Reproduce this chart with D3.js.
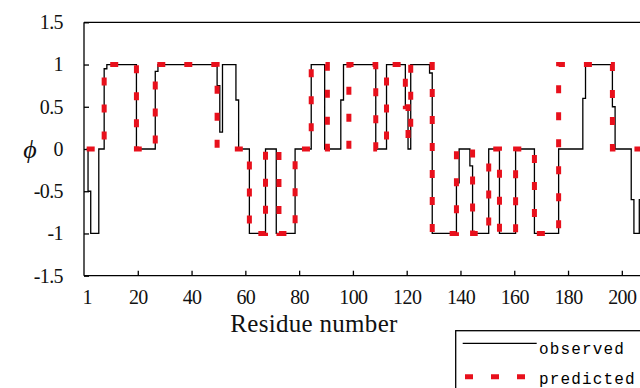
<!DOCTYPE html>
<html>
<head>
<meta charset="utf-8">
<script src="https://cdn.jsdelivr.net/npm/d3@7/dist/d3.min.js"></script>
<style>
body { margin: 0; background: #fff; }
svg { display: block; }
</style>
</head>
<body>
<svg width="640" height="388"></svg>
<script>
// residue numbers along the chain
const residues = d3.range(1, 208)

// observed phi per residue
const observed = [
	0, -0.5, -1, -1, -1, 0, 0, 0.95, 1, 1,
	1, 1, 1, 1, 1, 1, 1, 1, 1, 0,
	0, 0, 0, 0, 0, 0, 0.92, 1, 1, 1,
	1, 1, 1, 1, 1, 1, 1, 1, 1, 1,
	1, 1, 1, 1, 1, 1, 1, 1, 1, 0.75,
	0.2, 1, 1, 1, 1, 1, 0.58, 0, 0, 0,
	0, -1, -1, -1, -1, -1, -1, 0, 0, 0,
	0, -1, -1, -1, -1, -1, -1, -1, 0, 0,
	0, 0, 0, 0, 1, 1, 1, 1, 1, 0,
	0, 0, 0, 0, 0, 0.58, 1, 1, 1, 1,
	1, 1, 1, 1, 1, 1, 1, 1, 0, 0,
	0, 0, 1, 1, 1, 1, 1, 1, 1, 0.5,
	0, 1, 1, 1, 1, 1, 1, 1, 0.9, -1,
	-1, -1, -1, -1, -1, -1, -1, -1, -0.4, 0,
	0, 0, 0, -0.2, -1, -1, -1, -1, -1, -1,
	0, 0, 0, 0, -1, -1, -1, -1, -1, -1,
	0, 0, 0, 0, 0, 0, 0, -1, -1, -1,
	-1, -1, -1, -1, -1, -1, 0, 0, 0, 0,
	0, 0, 0, 0, 0, 0.6, 1, 1, 1, 1,
	1, 1, 1, 1, 1, 1, 0.5, 0, 0, 0,
	0, 0, 0, -0.6, -1, -1, -0.6
]

// predicted phi per residue
const predicted = [
	0, 0, 0, 0, 0, 0, 0, 1, 1, 1,
	1, 1, 1, 1, 1, 1, 1, 1, 1, 0,
	0, 0, 0, 0, 0, 0, 1, 1, 1, 1,
	1, 1, 1, 1, 1, 1, 1, 1, 1, 1,
	1, 1, 1, 1, 1, 1, 1, 1, 1, 0,
	0, 0, 0, 0, 0, 0, 0, 0, 0, 0,
	0, -1, -1, -1, -1, -1, -1, 0, 0, 0,
	0, 0, -1, -1, -1, -1, -1, -1, 0, 0,
	0, 0, 0, 0, 1, 1, 1, 1, 1, 1,
	0, 0, 0, 0, 0, 0, 0, 0, 1, 1,
	1, 1, 1, 1, 1, 1, 1, 1, 0, 0,
	0, 0, 1, 1, 1, 1, 1, 1, 1, 0.5,
	0.1, 1, 1, 1, 1, 1, 1, 1, 1, -1,
	-1, -1, -1, -1, -1, -1, -1, -1, 0, 0,
	0, 0, 0, 0, -1, -1, -1, -1, -1, -1,
	0, 0, 0, 0, -1, -1, -1, -1, -1, -1,
	0, 0, 0, 0, 0, 0, 0, -1, -1, -1,
	-1, -1, -1, -1, -1, -1, 1, 1, 1, 1,
	1, 1, 1, 1, 1, 1, 1, 1, 1, 1,
	1, 1, 1, 1, 1, 1, 0, 0, 0, 0,
	0, 0, 0, 0, 0, 0, 0
]

const xTickLabels = [1, 20, 40, 60, 80, 100, 120, 140, 160, 180, 200]
const yTicks = [-1.5, -1, -0.5, 0, 0.5, 1, 1.5]
const seriesNames = ["observed", "predicted"]

const svg = d3.select("svg")
const serif = "'Liberation Serif', 'Times New Roman', serif"

// plot area runs past the right edge of the picture (the figure is cropped)
const x = d3.scaleLinear().domain([0, 220]).range([84, 675.6])
const y = d3.scaleLinear().domain([-1.5, 1.5]).range([275.7, 22.3])

// frame
const frame = svg.append("g").attr("stroke", "#000").attr("stroke-width", 1.3)
frame.append("line").attr("x1", x(0)).attr("x2", x(220)).attr("y1", y(1.5)).attr("y2", y(1.5))
frame.append("line").attr("x1", x(0)).attr("x2", x(220)).attr("y1", y(-1.5)).attr("y2", y(-1.5))
frame.append("line").attr("x1", x(0)).attr("x2", x(0)).attr("y1", y(1.5)).attr("y2", y(-1.5))
frame.append("line").attr("x1", x(220)).attr("x2", x(220)).attr("y1", y(1.5)).attr("y2", y(-1.5))

// y axis, ticks pointing into the plot
const yAxis = svg.append("g")
	.attr("transform", `translate(${x(0)},0)`)
	.call(d3.axisLeft(y).tickValues(yTicks).tickSizeInner(-5).tickSizeOuter(0).tickPadding(21).tickFormat(d => String(d)))
yAxis.select(".domain").remove()
yAxis.selectAll("line").attr("stroke", "#000").attr("stroke-width", 1.3)
yAxis.selectAll("text")
	.attr("font-family", serif).attr("font-size", 20).attr("letter-spacing", -0.6).attr("fill", "#111")

// x axis
const xAxis = svg.append("g")
	.attr("transform", `translate(0,${y(-1.5)})`)
	.call(d3.axisBottom(x).tickValues(xTickLabels).tickSizeInner(-5).tickSizeOuter(0).tickPadding(14))
xAxis.select(".domain").remove()
xAxis.selectAll("line").attr("stroke", "#000").attr("stroke-width", 1.3)
xAxis.selectAll(".tick").filter(d => d === 1).select("line").remove()
xAxis.selectAll("text")
	.attr("font-family", serif).attr("font-size", 20).attr("letter-spacing", -0.6).attr("fill", "#111")

// series, drawn as steps centred on each residue
const line = d3.line()
	.curve(d3.curveStep)
	.x((d, i) => x(residues[i]))
	.y(d => y(d))

svg.append("path")
	.datum(observed)
	.attr("fill", "none")
	.attr("stroke", "#000")
	.attr("stroke-width", 1.3)
	.attr("d", line)

svg.append("path")
	.datum(predicted)
	.attr("fill", "none")
	.attr("stroke", "#e8101c")
	.attr("stroke-width", 5)
	.attr("stroke-dasharray", "8,19")
	.attr("d", line)

// axis titles
svg.append("text")
	.attr("x", 314).attr("y", 332)
	.attr("text-anchor", "middle")
	.attr("font-family", serif).attr("font-size", 25).attr("letter-spacing", 0.3).attr("fill", "#111")
	.text("Residue number")

svg.append("text")
	.attr("x", 30).attr("y", 158)
	.attr("text-anchor", "middle")
	.attr("font-family", serif).attr("font-size", 26).attr("font-style", "italic").attr("fill", "#111")
	.text("ϕ")

// legend (box is cut by the picture edge)
const legend = svg.append("g")
legend.append("rect")
	.attr("x", 455.7).attr("y", 330.7).attr("width", 220).attr("height", 80)
	.attr("fill", "#fff").attr("stroke", "#000").attr("stroke-width", 1.3)
legend.append("line")
	.attr("x1", 462.7).attr("x2", 536.7).attr("y1", 343.3).attr("y2", 343.3)
	.attr("stroke", "#000").attr("stroke-width", 1.3)
legend.append("line")
	.attr("x1", 465).attr("x2", 537).attr("y1", 376.7).attr("y2", 376.7)
	.attr("stroke", "#e8101c").attr("stroke-width", 5).attr("stroke-dasharray", "8,18")
legend.selectAll("text.lab")
	.data(seriesNames)
	.enter()
	.append("text")
	.attr("class", "lab")
	.attr("x", 539)
	.attr("y", (d, i) => i === 0 ? 353.5 : 383.5)
	.attr("font-family", "'Liberation Mono', monospace")
	.attr("font-size", 16)
	.attr("letter-spacing", 1.15)
	.attr("fill", "#000")
	.text(d => d)
</script>
</body>
</html>
